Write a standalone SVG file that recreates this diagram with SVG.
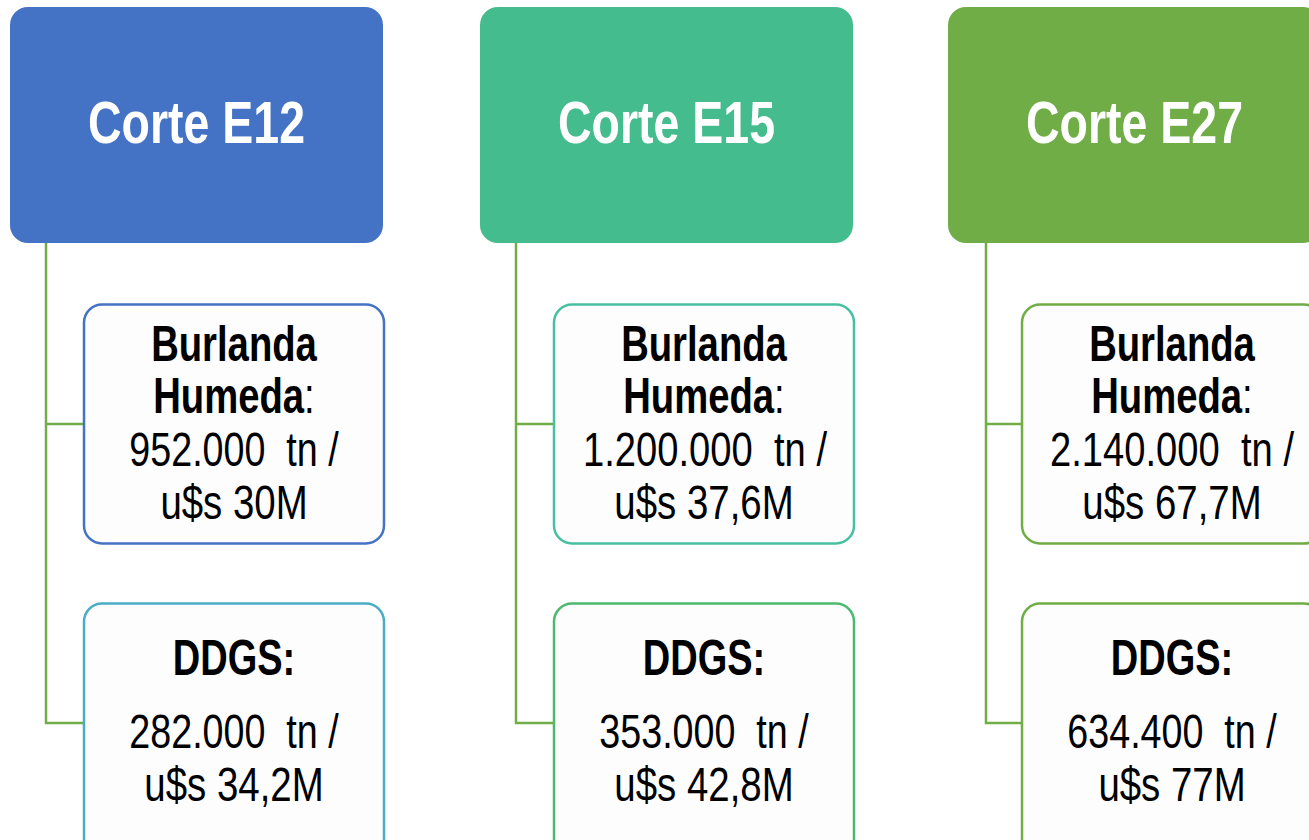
<svg xmlns="http://www.w3.org/2000/svg" width="1309" height="840" viewBox="0 0 1309 840">
<style>
.hdr{stroke:none}
.child{fill:#fdfdfd;stroke-width:2.5}
.conn{fill:none;stroke:#70ad47;stroke-width:2.5}
.ht{font-family:"Liberation Sans",Arial,sans-serif;font-weight:bold;font-size:60px;fill:#ffffff;text-anchor:middle}
.bt{font-family:"Liberation Sans",Arial,sans-serif;font-weight:bold;font-size:50px;fill:#000000;text-anchor:middle}
.rt{font-family:"Liberation Sans",Arial,sans-serif;font-weight:normal;font-size:48px;fill:#000000;text-anchor:middle;white-space:pre}
</style>
<rect width="1309" height="840" fill="#ffffff"/>
<g id="connectors">
<path class="conn" d="M46 243 V723 H84 M46 424 H84"/>
<path class="conn" d="M516 243 V723 H554 M516 424 H554"/>
<path class="conn" d="M986 243 V723 H1022 M986 424 H1022"/>
</g>
<g id="header-e12">
<rect class="hdr" x="10" y="7" width="373" height="236" rx="18" fill="#4472c4"/>
<text class="ht" transform="translate(196.5 143) scale(0.775 1)">Corte E12</text>
</g>
<g id="header-e15">
<rect class="hdr" x="480" y="7" width="373" height="236" rx="18" fill="#45bc8e"/>
<text class="ht" transform="translate(666.5 143) scale(0.775 1)">Corte E15</text>
</g>
<g id="header-e27">
<rect class="hdr" x="948" y="7" width="373" height="236" rx="18" fill="#70ad47"/>
<text class="ht" transform="translate(1134.5 143) scale(0.775 1)">Corte E27</text>
</g>
<g id="e12-burlanda">
<rect class="child" x="84" y="304.5" width="300" height="239" rx="18" stroke="#4472c4"/>
<text class="bt" transform="translate(234 361) scale(0.765 1)">Burlanda</text>
<text class="bt" transform="translate(234 413) scale(0.765 1)">Humeda<tspan font-weight="normal">:</tspan></text>
<text class="rt" xml:space="preserve" transform="translate(234 466) scale(0.785 1)">952.000  tn /</text>
<text class="rt" transform="translate(234 519) scale(0.8 1)">u$s 30M</text>
</g>
<g id="e12-ddgs">
<rect class="child" x="84" y="603.5" width="300" height="260" rx="18" stroke="#4bacc6"/>
<text class="bt" transform="translate(234 675) scale(0.76 1)">DDGS:</text>
<text class="rt" xml:space="preserve" transform="translate(234 748) scale(0.785 1)">282.000  tn /</text>
<text class="rt" transform="translate(234 801) scale(0.8 1)">u$s 34,2M</text>
</g>
<g id="e15-burlanda">
<rect class="child" x="554" y="304.5" width="300" height="239" rx="18" stroke="#47c0a2"/>
<text class="bt" transform="translate(704 361) scale(0.765 1)">Burlanda</text>
<text class="bt" transform="translate(704 413) scale(0.765 1)">Humeda<tspan font-weight="normal">:</tspan></text>
<text class="rt" xml:space="preserve" transform="translate(705 466) scale(0.795 1)">1.200.000  tn /</text>
<text class="rt" transform="translate(704 519) scale(0.8 1)">u$s 37,6M</text>
</g>
<g id="e15-ddgs">
<rect class="child" x="554" y="603.5" width="300" height="260" rx="18" stroke="#4cb96e"/>
<text class="bt" transform="translate(704 675) scale(0.76 1)">DDGS:</text>
<text class="rt" xml:space="preserve" transform="translate(704 748) scale(0.785 1)">353.000  tn /</text>
<text class="rt" transform="translate(704 801) scale(0.8 1)">u$s 42,8M</text>
</g>
<g id="e27-burlanda">
<rect class="child" x="1022" y="304.5" width="300" height="239" rx="18" stroke="#70ad47"/>
<text class="bt" transform="translate(1172 361) scale(0.765 1)">Burlanda</text>
<text class="bt" transform="translate(1172 413) scale(0.765 1)">Humeda<tspan font-weight="normal">:</tspan></text>
<text class="rt" xml:space="preserve" transform="translate(1172 466) scale(0.795 1)">2.140.000  tn /</text>
<text class="rt" transform="translate(1172 519) scale(0.8 1)">u$s 67,7M</text>
</g>
<g id="e27-ddgs">
<rect class="child" x="1022" y="603.5" width="300" height="260" rx="18" stroke="#70ad47"/>
<text class="bt" transform="translate(1172 675) scale(0.76 1)">DDGS:</text>
<text class="rt" xml:space="preserve" transform="translate(1172 748) scale(0.785 1)">634.400  tn /</text>
<text class="rt" transform="translate(1172 801) scale(0.8 1)">u$s 77M</text>
</g>
</svg>
